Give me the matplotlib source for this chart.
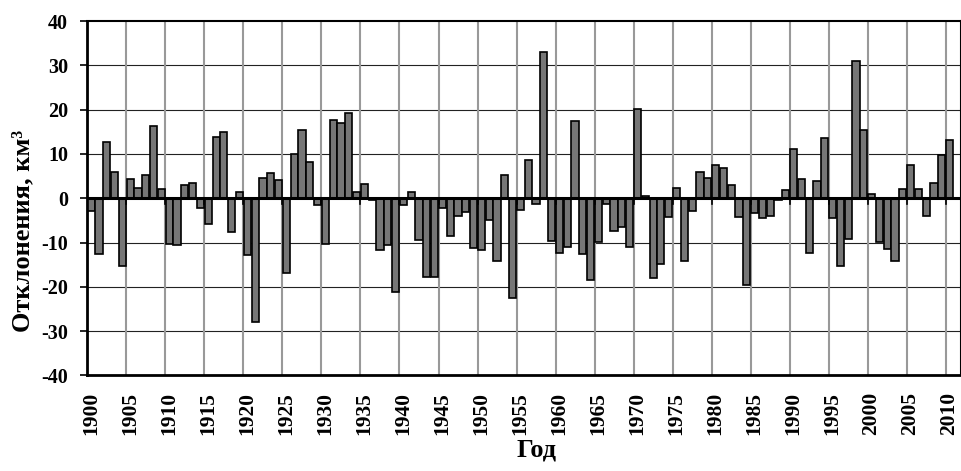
import numpy as np
import matplotlib
matplotlib.use("Agg")
import matplotlib.pyplot as plt

# годы и отклонения стока, км3
years = np.arange(1900, 2011)
dev = [-2.9, -12.5, 12.6, 6.0, -15.4, 4.3, 2.4, 5.3, 16.3, 2.0,
       -10.4, -10.6, 2.9, 3.5, -2.1, -5.9, 13.9, 15.0, -7.7, 1.4,
       -12.7, -28.0, 4.5, 5.6, 4.1, -16.8, 10.1, 15.4, 8.2, -1.5,
       -10.4, 17.6, 17.1, 19.2, 1.5, 3.3, -0.3, -11.7, -10.6, -21.1,
       -1.6, 1.4, -9.4, -17.8, -17.8, -2.3, -8.6, -4.1, -3.2, -11.2,
       -11.7, -4.9, -14.1, 5.2, -22.6, -2.6, 8.6, -1.4, 33.1, -9.6,
       -12.3, -10.9, 17.4, -12.6, -18.4, -9.8, -1.3, -7.5, -6.4, -11.1,
       20.2, 0.6, -18.1, -14.8, -4.3, 2.4, -14.1, -2.9, 5.9, 4.5,
       7.4, 6.9, 3.1, -4.3, -19.5, -3.4, -4.4, -4.0, -0.4, 1.9,
       11.2, 4.4, -12.3, 3.8, 13.6, -4.4, -15.3, -9.1, 31.0, 15.4,
       1.0, -9.8, -11.5, -14.1, 2.2, 7.4, 2.0, -4.1, 3.5, 9.8,
       13.1]
year_labels = [str(y) for y in range(1900, 2011, 5)]
y_ticks = list(range(-40, 41, 10))

plt.rcParams['font.family'] = ['Liberation Serif', 'DejaVu Serif']
plt.rcParams['font.weight'] = 'bold'

fig = plt.figure(figsize=(9.62, 4.71), dpi=100)
ax = fig.add_axes([0.0908, 0.2028, 0.9085, 0.7525])

ax.bar(years, dev, width=0.92, color='#767676', edgecolor='black',
       linewidth=1.2, zorder=3)

ax.set_xlim(1899.5, 2011.5)
ax.set_ylim(-40, 40)

# сетка: горизонтальная по 10, вертикальная через 5 лет
ax.set_yticks(y_ticks)
ax.set_yticklabels([str(v) for v in y_ticks], fontsize=14.5, fontweight='bold')
ax.tick_params(axis='y', direction='out', length=5, width=1.2, pad=9)
for v in y_ticks[1:-1]:
    ax.axhline(v, color='#222222', lw=0.8, zorder=1)

bounds = np.arange(1904.5, 2011, 5)
for b in bounds:
    ax.axvline(b, color='#999999', lw=1.5, zorder=1)
    ax.plot([b, b], [0, -1.3], color='black', lw=1.2, zorder=4)

ax.set_xticks(np.arange(1900, 2011, 5))
ax.set_xticklabels(year_labels, rotation=90, fontsize=15.5, fontweight='bold')
ax.tick_params(axis='x', length=0, pad=12)

ax.axhline(0, color='black', lw=2.2, zorder=4)

for s in ['left', 'bottom']:
    ax.spines[s].set_linewidth(2)
ax.spines['top'].set_linewidth(1.5)
ax.spines['right'].set_linewidth(1.5)

fig.text(0.024, 0.51, 'Отклонения, км³', fontsize=19, fontweight='bold',
         rotation=90, ha='center', va='center')
fig.text(0.558, 0.03, 'Год', fontsize=19, fontweight='bold', ha='center')

fig.savefig('out.png', dpi=100)
